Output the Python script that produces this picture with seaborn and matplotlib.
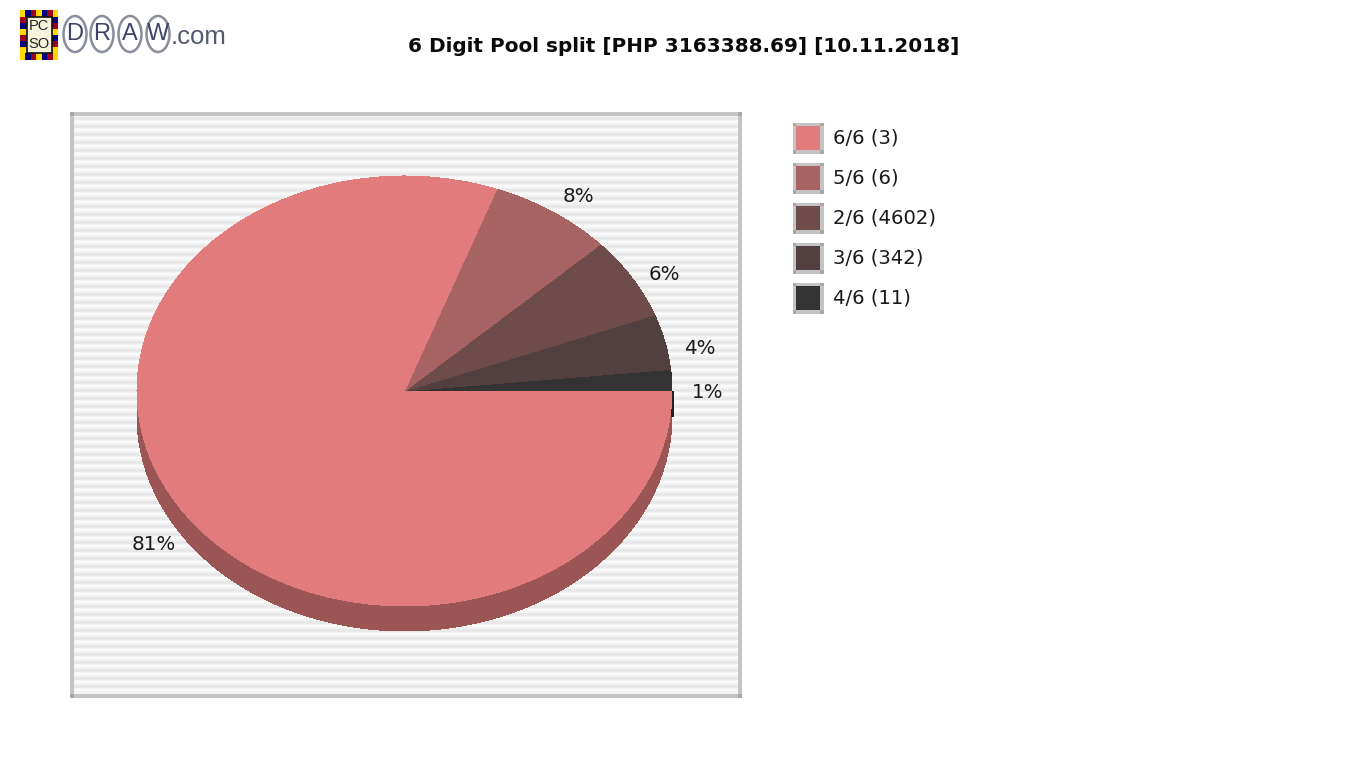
import matplotlib
matplotlib.use("Agg")
import matplotlib.pyplot as plt
import seaborn as sns
from matplotlib.patches import Rectangle, Ellipse

# Data (counter-clockwise from 3 o'clock)
slice_names = ["4/6", "3/6", "2/6", "5/6", "6/6"]
slice_shares = [1.6, 4.15, 6.2, 7.45, 80.6]
slice_colors = ["#333333", "#523F3F", "#6F4C4C", "#A86363", "#E27B7B"]
pct_labels = ["1%", "4%", "6%", "8%", "81%"]
pct_positions = [(708, 392), (700, 348), (664, 274), (578, 196), (154, 544)]

legend_names = ["6/6 (3)", "5/6 (6)", "2/6 (4602)", "3/6 (342)", "4/6 (11)"]
legend_colors = ["#E27B7B", "#A86363", "#6F4C4C", "#523F3F", "#333333"]
title_text = "6 Digit Pool split [PHP 3163388.69] [10.11.2018]"
depth_color = "#9C5555"

W, H = 1366, 768
sns.set_theme(style="white", rc={"axes.grid": False})
plt.rcParams["font.family"] = ["DejaVu Sans"]
palette = sns.color_palette(slice_colors)
logo_font = "Liberation Sans"

fig = plt.figure(figsize=(W / 100, H / 100), dpi=100, facecolor="white")

# Full-figure overlay in pixel coordinates
bg = fig.add_axes([0, 0, 1, 1], zorder=0)
bg.set_xlim(0, W)
bg.set_ylim(H, 0)
bg.axis("off")

# plot area with horizontal stripes
L, R, T, B = 71, 741, 113, 697
bg.add_patch(Rectangle((L, T), R - L, B - T, fc="#F3F3F3", ec="none"))
y = T + 4
while y < B - 4:
    bg.add_patch(Rectangle((L, y), R - L, 2.5, fc="#E8E8E8", ec="none"))
    bg.add_patch(Rectangle((L, y + 4), R - L, 2, fc="#FAFAFA", ec="none"))
    y += 8
frame = "#C4C4C4"
bg.add_patch(Rectangle((L - 1, T - 1), R - L + 2, 4, fc=frame, ec="none"))
bg.add_patch(Rectangle((L - 1, B - 3), R - L + 2, 4, fc=frame, ec="none"))
bg.add_patch(Rectangle((L - 1, T - 1), 4, B - T + 2, fc=frame, ec="none"))
bg.add_patch(Rectangle((R - 3, T - 1), 4, B - T + 2, fc=frame, ec="none"))
for cx, cy in [(L - 1, T - 1), (R - 3, T - 1), (L - 1, B - 3), (R - 3, B - 3)]:
    bg.add_patch(Rectangle((cx, cy), 4, 4, fc="#A8A8A8", ec="none"))

# Pie axes: pie ellipse spans 137..672 x 176..606, depth 25 px
cx0, cy0, rx, ry, depth = 404.5, 391, 267.5, 215, 25
pie_ax = fig.add_axes([(cx0 - rx) / W, 1 - (cy0 + ry + depth) / H, 2 * rx / W, (2 * ry + depth) / H], zorder=1)
pie_ax.patch.set_alpha(0)
d = depth / ry
pie_ax.pie([1], colors=[depth_color], center=(0, -d), radius=1, wedgeprops={"antialiased": False, "lw": 0})
pie_ax.add_patch(Rectangle((-1, -d), 2, d, fc=depth_color, ec="none", antialiased=False))
pie_ax.add_patch(Rectangle((0.998, -d * 1.04), 0.008, d * 1.04, fc="#222222", ec="none", antialiased=False,
                           clip_on=False))
wedges, _ = pie_ax.pie(slice_shares, colors=palette, startangle=0, counterclock=True, radius=1,
                       wedgeprops={"antialiased": False, "lw": 0})
pie_ax.set_aspect("auto")
pie_ax.set_xlim(-1, 1)
pie_ax.set_ylim(-1 - d, 1)
pie_ax.axis("off")

# Foreground overlay
fg = fig.add_axes([0, 0, 1, 1], zorder=2)
fg.set_xlim(0, W)
fg.set_ylim(H, 0)
fg.axis("off")
fg.patch.set_alpha(0)

for lab, (x, y) in zip(pct_labels, pct_positions):
    fg.text(x, y, lab, ha="center", va="center", fontsize=14.3, color="#1A1A1A")

fg.text(684, 46, title_text, ha="center", va="center", fontsize=14.4, fontweight="bold", color="#0A0A0A")

# Legend
for i, (name, col) in enumerate(zip(legend_names, legend_colors)):
    y0 = 122.5 + 40 * i
    fg.add_patch(Rectangle((792.5, y0), 31, 31, fc="#C4C4C4", ec="none"))
    for cx, cy in [(792.5, y0), (820, y0), (792.5, y0 + 27.5), (820, y0 + 27.5)]:
        fg.add_patch(Rectangle((cx, cy), 3.5, 3.5, fc="#A8A8A8", ec="none"))
    fg.add_patch(Rectangle((796, y0 + 3.5), 24, 24, fc=col, ec="none"))
    fg.text(833, y0 + 15.5, name, ha="left", va="center", fontsize=14.1, color="#1A1A1A")

# Logo
cycle = ["#FFD800", "#00007F", "#A00020"]
cell = 38 / 7
for i in range(7):
    c = cycle[i % 3]
    fg.add_patch(Rectangle((20 + i * cell, 10), cell, 7, fc=c, ec="none"))
    fg.add_patch(Rectangle((20 + i * cell, 53), cell, 7, fc=c, ec="none"))
h = 36 / 6
for j in range(6):
    fg.add_patch(Rectangle((20, 17 + j * h), 6.5, h, fc=cycle[-(j + 1) % 3], ec="none"))
    fg.add_patch(Rectangle((51.5, 17 + j * h), 6.5, h, fc=cycle[(j + 1) % 3], ec="none"))
fg.add_patch(Rectangle((26.5, 17), 25, 36, fc="#F6F3DC", ec="#111111", lw=1.2))
fg.text(39, 26.5, "PC", ha="center", va="center", fontsize=10.5, family=logo_font, color="#222222")
fg.text(39, 44, "SO", ha="center", va="center", fontsize=10.5, family=logo_font, color="#222222")
for letter, x in zip("DRAW", [75, 102, 130, 158]):
    fg.add_patch(Ellipse((x, 34), 23, 36, fc="none", ec="#8A8D9C", lw=1.8))
    fg.text(x, 34.5, letter, ha="center", va="center", fontsize=17, family=logo_font, color="#3E4468")
fg.text(171, 37, ".com", ha="left", va="center", fontsize=18.5, family=logo_font, color="#555A70")

fig.savefig("out.png", dpi=100, facecolor="white")
